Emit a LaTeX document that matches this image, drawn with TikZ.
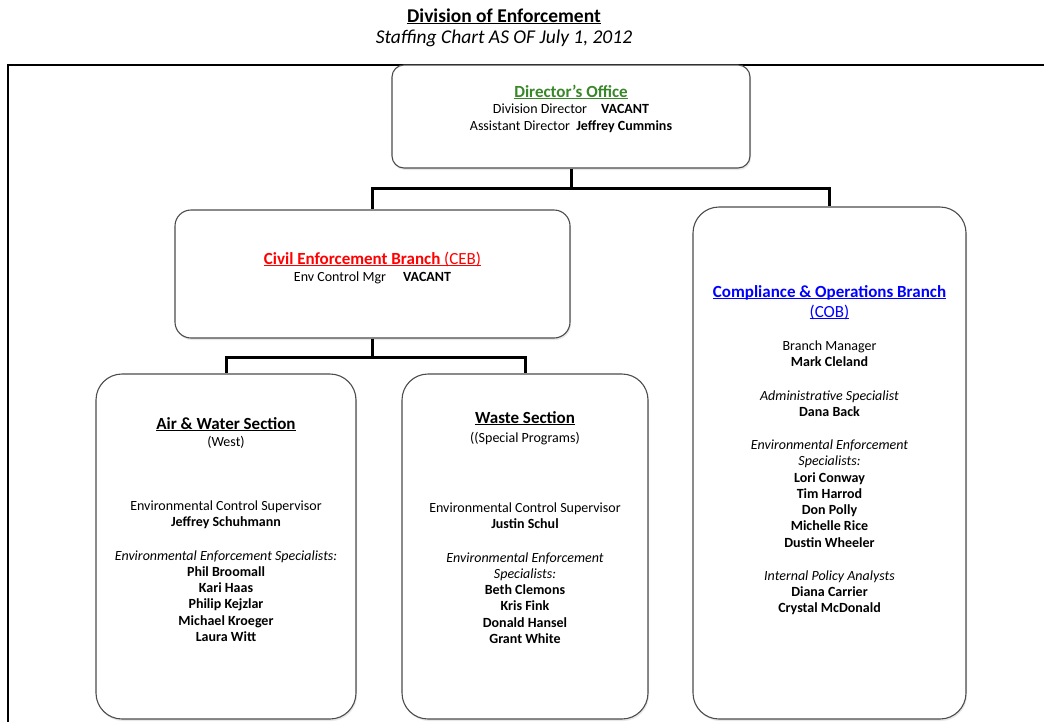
\documentclass[tikz,border=0pt]{standalone}
\usepackage{fontspec}
\setmainfont{Carlito}
\usetikzlibrary{positioning, shadows}

\definecolor{dirgreen}{RGB}{56,135,40}
\definecolor{cebred}{RGB}{255,0,0}
\definecolor{cobblue}{RGB}{0,0,255}

% underline that runs through the descenders, the way the chart does it
\newcommand{\hdline}[1]{\setbox0=\hbox{#1}\rlap{\rule[-2pt]{\wd0}{1pt}}\box0}

\tikzset{
  box/.style={draw=black!70, line width=1.1pt, fill=white, inner sep=0pt,
    drop shadow={opacity=0.18, shadow xshift=1pt, shadow yshift=-2pt}},
  link/.style={line width=3pt},
  ttl/.style={inner sep=0pt, anchor=base, font=\fontsize{19.5}{22}\selectfont},
  % nodes are placed at the baseline of their first line
  head/.style={align=center, inner sep=0pt, anchor=north, yshift=14pt,
    execute at begin node=\strut, font=\fontsize{17}{20}\selectfont\bfseries},
  txt/.style={align=center, inner sep=0pt, anchor=north, yshift=11.375pt,
    execute at begin node=\strut, font=\fontsize{14}{16.25}\selectfont},
}

\begin{document}
\begin{tikzpicture}[x=1pt, y=-1pt]
  \useasboundingbox (0,0) rectangle (1044,721);

  \node[ttl] (title) at (504,22) {\textbf{\hdline{Division of Enforcement}}};
  \node[ttl] (subtitle) at (504,43) {\textit{Staffing Chart AS OF July 1, 2012}};

  % outer frame
  \draw[line width=1.2pt] (1044,65) -- (8,65) -- (8,723);

  % boxes
  \node[box, rounded corners=12pt, minimum width=358pt, minimum height=103pt] (dir) at (571,116.5) {};
  \node[box, rounded corners=16pt, minimum width=395pt, minimum height=128pt] (ceb) at (372.5,274) {};
  \node[box, rounded corners=26pt, minimum width=273pt, minimum height=512pt] (cob) at (829.5,463) {};
  \node[box, rounded corners=26pt, minimum width=260pt, minimum height=345pt] (air) at (226,546.5) {};
  \node[box, rounded corners=26pt, minimum width=246pt, minimum height=345pt] (waste) at (525,546.5) {};

  % connectors
  \coordinate (dirjoin) at ([yshift=-20pt]dir.south);
  \coordinate (cebjoin) at ([yshift=-19pt]ceb.south);
  \draw[link] (dir.south) -- (dirjoin);
  \draw[link] (dirjoin) -| (ceb.north);
  \draw[link] (dirjoin) -| (cob.north);
  \draw[link] (ceb.south) -- (cebjoin);
  \draw[link] (cebjoin) -| (air.north);
  \draw[link] (cebjoin) -| (waste.north);

  % Director's Office
  \node[head, text=dirgreen] (dirhead) at (571,97) {\hdline{Director’s Office}};
  \node[txt] (dirtxt) at (571,115.5) {Division Director\quad\textbf{VACANT}\\
    Assistant Director\ \ \textbf{Jeffrey Cummins}};

  % Civil Enforcement Branch
  \node[head, text=cebred] (cebhead) at (372.5,264) {\hdline{Civil Enforcement Branch \mdseries(CEB)}};
  \node[txt] (cebtxt) at (372.5,281) {Env Control Mgr\quad\ \textbf{VACANT}};

  % Compliance & Operations Branch
  \node[head, text=cobblue] (cobhead) at (829.5,299) {\hdline{Compliance \& Operations Branch}\\
    \mdseries\hdline{(COB)}};
  \node[txt] (cobtxt) at (829.5,352) {Branch Manager\\ \textbf{Mark Cleland}\\[17pt]
    \textit{Administrative Specialist}\\ \textbf{Dana Back}\\[17pt]
    \textit{Environmental Enforcement}\\ \textit{Specialists:}\\
    \textbf{Lori Conway}\\ \textbf{Tim Harrod}\\ \textbf{Don Polly}\\
    \textbf{Michelle Rice}\\ \textbf{Dustin Wheeler}\\[17pt]
    \textit{Internal Policy Analysts}\\ \textbf{Diana Carrier}\\ \textbf{Crystal McDonald}};

  % Air & Water Section
  \node[head] (airhead) at (226,429) {\hdline{Air \& Water Section}};
  \node[txt] (airsub) at (226,446) {(West)};
  \node[txt] (airtxt) at (226,512) {Environmental Control Supervisor\\ \textbf{Jeffrey Schuhmann}\\[17pt]
    \textit{Environmental Enforcement Specialists:}\\
    \textbf{Phil Broomall}\\ \textbf{Kari Haas}\\ \textbf{Philip Kejzlar}\\
    \textbf{Michael Kroeger}\\ \textbf{Laura Witt}};

  % Waste Section
  \node[head] (wastehead) at (525,423) {\hdline{Waste Section}};
  \node[txt] (wastesub) at (525,442) {((Special Programs)};
  \node[txt] (wastetxt) at (525,514) {Environmental Control Supervisor\\ \textbf{Justin Schul}\\[17pt]
    \textit{Environmental Enforcement}\\ \textit{Specialists:}\\
    \textbf{Beth Clemons}\\ \textbf{Kris Fink}\\ \textbf{Donald Hansel}\\ \textbf{Grant White}};
\end{tikzpicture}
\end{document}
